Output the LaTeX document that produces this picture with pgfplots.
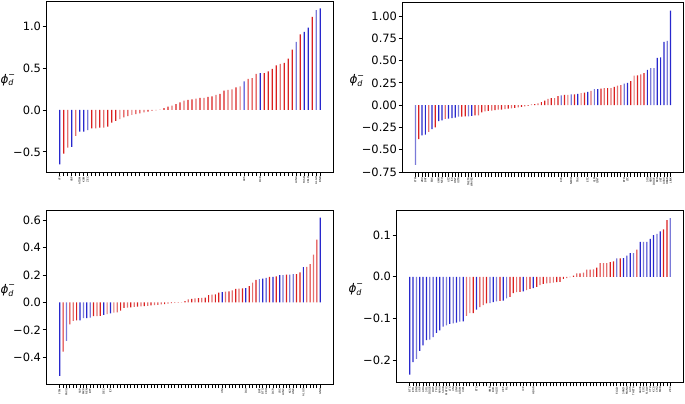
\documentclass[border=0pt]{standalone}
\usepackage{fontspec}
\setmainfont{DejaVu Sans}
\usepackage{pgfplots}
\pgfplotsset{compat=1.18}

\definecolor{rd}{RGB}{218,32,32}
\definecolor{rl}{RGB}{228,112,112}
\definecolor{bd}{RGB}{40,40,205}
\definecolor{bl}{RGB}{122,122,216}

\pgfplotsset{
  stem/.style={ybar, bar shift=0pt, bar width=1.2bp, draw=none, mark=none, fill=#1},
  panel/.style={
    scale only axis,
    anchor=north west,
    tick align=outside,
    xtick pos=bottom,
    ytick pos=left,
    major tick length=4bp,
    minor tick length=4bp,
    every tick/.style={black, line width=0.8bp},
    every minor tick/.style={black, line width=0.8bp},
    axis line style={line width=0.8bp},
    tick label style={font=\fontsize{11.5}{13}\selectfont},
    yticklabel style={inner sep=1.5bp},
    xticklabel style={font=\fontsize{2.6}{3}\selectfont, rotate=90, anchor=east, inner sep=0.6bp},
    ylabel={\fontsize{12}{13}\selectfont\textit{ϕ}\rlap{\raisebox{0.85ex}{\fontsize{8}{8}\selectfont −}}\raisebox{-0.45ex}{\fontsize{8}{8}\selectfont\textit{d}}},
    every axis y label/.style={at={(axis description cs:0,0.54)}, anchor=east, inner sep=0pt},
  },
}

\begin{document}
\begin{tikzpicture}
\path[use as bounding box] (0,0) rectangle (685bp,-404bp);

% top left
\begin{axis}[panel,
  at={(46.7bp,-1.7bp)}, width=286.6bp, height=170.3bp,
  xmin=-3.25, xmax=68.25, ymin=-0.74, ymax=1.29,
  ylabel style={xshift=-33bp},
  ytick={-0.5,0,0.5,1}, yticklabels={−0.5,0.0,0.5,1.0},
  minor xtick={0,...,65},
  xtick={0,3,5,6,7,46,50,59,61,62,64,65},
  xticklabels={YFI,XRP,ATOM,KSM,ZEC,AXS,DCR,LUNA,TUSD,CELO,ALGO,BNB},
]
\addplot[stem=rd] coordinates {(1,-0.52) (8,-0.22) (10,-0.21) (12,-0.20) (13,-0.15) (14,-0.13) (16,-0.09) (17,-0.075) (19,-0.05) (20,-0.04) (22,-0.02) (26,0.02) (27,0.04) (29,0.07) (30,0.09) (32,0.12) (33,0.125) (35,0.145) (37,0.155) (38,0.16) (40,0.19) (41,0.23) (44,0.27) (47,0.37) (48,0.38) (49,0.43) (51,0.44) (52,0.46) (53,0.49) (54,0.53) (56,0.56) (57,0.61) (58,0.72) (60,0.90) (63,1.11)};
\addplot[stem=rl] coordinates {(2,-0.45) (4,-0.31) (9,-0.22) (11,-0.21) (15,-0.11) (18,-0.06) (21,-0.03) (23,-0.01) (24,-0.004) (25,0.004) (28,0.05) (31,0.11) (34,0.135) (36,0.145) (39,0.18) (42,0.24) (43,0.245) (45,0.28) (55,0.55)};
\addplot[stem=bd] coordinates {(0,-0.65) (3,-0.44) (5,-0.26) (6,-0.26) (46,0.34) (50,0.44) (61,0.93) (62,0.98) (65,1.21)};
\addplot[stem=bl] coordinates {(7,-0.24) (59,0.81) (64,1.19)};
\end{axis}

% top right
\begin{axis}[panel,
  at={(402.7bp,-2.7bp)}, width=280.6bp, height=170bp,
  xmin=-3.85, xmax=80.85, ymin=-0.757, ymax=1.148,
  ylabel style={xshift=-40bp},
  ytick={-0.75,-0.5,-0.25,0,0.25,0.5,0.75,1},
  yticklabels={−0.75,−0.50,−0.25,0.00,0.25,0.50,0.75,1.00},
  minor xtick={0,...,77},
  xtick={0,2,3,5,7,8,10,11,12,13,16,17,44,47,49,52,54,55,63,64,70,71,72,73,74,75,76,77},
  xticklabels={FTM,ZRX,BAT,EOS,XMR,NEO,XTZ,ICX,ONT,IOTA,THETA,WAVES,KCS,NEXO,TRX,ETC,XLM,QNT,ETH,LTC,SOL,ADA,DOGE,BCH,VET,AVAX,HBAR,LINK},
]
\addplot[stem=rd] coordinates {(1,-0.38) (6,-0.25) (14,-0.13) (15,-0.125) (18,-0.115) (20,-0.08) (22,-0.065) (24,-0.055) (26,-0.05) (28,-0.04) (30,-0.03) (32,-0.02) (34,-0.008) (36,0.012) (38,0.035) (39,0.05) (41,0.08) (43,0.10) (45,0.115) (48,0.12) (51,0.14) (56,0.185) (58,0.19) (60,0.205) (62,0.225) (65,0.27) (67,0.335) (69,0.36)};
\addplot[stem=rl] coordinates {(4,-0.30) (9,-0.155) (19,-0.115) (21,-0.07) (23,-0.06) (25,-0.05) (27,-0.045) (29,-0.035) (31,-0.025) (33,-0.015) (35,0.01) (37,0.02) (40,0.07) (42,0.08) (46,0.115) (50,0.135) (53,0.16) (57,0.19) (59,0.19) (61,0.22) (66,0.33) (68,0.345)};
\addplot[stem=bd] coordinates {(2,-0.34) (3,-0.33) (5,-0.27) (7,-0.18) (8,-0.17) (10,-0.15) (11,-0.145) (12,-0.14) (17,-0.12) (49,0.125) (52,0.15) (55,0.18) (64,0.25) (70,0.395) (73,0.53) (74,0.535) (75,0.71) (77,1.06)};
\addplot[stem=bl] coordinates {(0,-0.67) (13,-0.13) (16,-0.125) (44,0.11) (47,0.12) (54,0.18) (63,0.24) (71,0.415) (72,0.415) (76,0.72)};
\end{axis}

% bottom left
\begin{axis}[panel,
  at={(46.7bp,-210.7bp)}, width=286.6bp, height=173.3bp,
  xmin=-3.85, xmax=80.85, ymin=-0.596, ymax=0.671,
  ylabel style={xshift=-33bp},
  ytick={-0.4,-0.2,0,0.2,0.4,0.6},
  yticklabels={−0.4,−0.2,0.0,0.2,0.4,0.6},
  minor xtick={0,...,77},
  xtick={0,2,6,7,8,9,13,15,48,55,59,60,61,63,65,66,68,69,72,77},
  xticklabels={FTM,PAXG,SXP,MKR,REN,BTT,DEC,ICP,UNI,DAI,BAT,BTG,CRO,DCR,LRC,LUNC,KCS,LINK,ALGO,GNO},
]
\addplot[stem=rd] coordinates {(1,-0.36) (3,-0.16) (5,-0.13) (10,-0.10) (12,-0.098) (18,-0.06) (19,-0.04) (21,-0.035) (23,-0.03) (25,-0.026) (27,-0.022) (29,-0.017) (31,-0.012) (33,-0.005) (35,-0.001) (37,0.01) (39,0.027) (41,0.032) (43,0.035) (44,0.053) (46,0.06) (47,0.073) (50,0.082) (52,0.10) (54,0.103) (56,0.12) (58,0.166) (62,0.187) (64,0.19) (67,0.203) (70,0.207) (71,0.22) (74,0.28) (76,0.46)};
\addplot[stem=rl] coordinates {(4,-0.135) (11,-0.10) (14,-0.085) (16,-0.075) (17,-0.073) (20,-0.038) (22,-0.032) (24,-0.028) (26,-0.024) (28,-0.02) (30,-0.014) (32,-0.008) (34,-0.003) (36,0.002) (38,0.022) (40,0.03) (42,0.034) (45,0.058) (49,0.08) (51,0.088) (53,0.102) (57,0.146) (73,0.26) (75,0.35)};
\addplot[stem=bd] coordinates {(0,-0.537) (6,-0.13) (8,-0.115) (13,-0.09) (15,-0.08) (48,0.075) (55,0.105) (60,0.175) (61,0.18) (63,0.188) (65,0.20) (72,0.258) (77,0.62)};
\addplot[stem=bl] coordinates {(2,-0.28) (7,-0.115) (9,-0.11) (59,0.17) (66,0.20) (68,0.203) (69,0.207)};
\end{axis}

% bottom right
\begin{axis}[panel,
  at={(396.7bp,-210bp)}, width=286.6bp, height=172.3bp,
  xmin=-3.9, xmax=81.9, ymin=-0.2535, ymax=0.1605,
  ylabel style={xshift=-35bp},
  ytick={-0.2,-0.1,0,0.1},
  yticklabels={−0.2,−0.1,0.0,0.1},
  minor xtick={0,...,78},
  xtick={0,1,2,3,4,5,6,7,8,9,10,11,12,13,14,15,16,20,24,25,26,28,29,34,37,62,64,65,66,67,69,70,71,72,73,74,75,78},
  xticklabels={BTC,ETH,BNB,XRP,ADA,SOL,DOGE,DOT,TRX,AVAX,SHIB,MATIC,LTC,UNI,LINK,ATOM,XLM,ETC,XMR,BCH,ALGO,VET,FIL,ICP,HBAR,EGLD,SAND,MANA,AXS,THETA,AAVE,EOS,FLOW,XTZ,KCS,CHZ,MKR,ZEC},
]
\addplot[stem=rd] coordinates {(19,-0.087) (21,-0.073) (23,-0.064) (27,-0.058) (30,-0.048) (31,-0.039) (33,-0.036) (36,-0.029) (38,-0.024) (40,-0.017) (44,-0.013) (45,-0.012) (46,-0.005) (48,-0.001) (49,0.003) (51,0.008) (54,0.017) (56,0.022) (57,0.033) (60,0.035) (61,0.037) (63,0.044) (68,0.065) (76,0.114) (77,0.136)};
\addplot[stem=rl] coordinates {(17,-0.094) (18,-0.087) (22,-0.068) (32,-0.037) (35,-0.032) (39,-0.020) (41,-0.016) (42,-0.015) (43,-0.014) (47,-0.003) (50,0.008) (52,0.010) (53,0.017) (55,0.018) (58,0.033) (59,0.033)};
\addplot[stem=bd] coordinates {(0,-0.235) (1,-0.205) (3,-0.178) (4,-0.165) (5,-0.152) (7,-0.145) (8,-0.135) (9,-0.129) (10,-0.12) (12,-0.113) (14,-0.11) (16,-0.107) (20,-0.079) (25,-0.061) (28,-0.057) (34,-0.035) (37,-0.027) (64,0.045) (65,0.051) (66,0.057) (69,0.084) (71,0.084) (72,0.091) (73,0.100) (75,0.109)};
\addplot[stem=bl] coordinates {(2,-0.197) (6,-0.151) (11,-0.117) (13,-0.112) (15,-0.108) (24,-0.063) (26,-0.059) (29,-0.052) (62,0.044) (67,0.057) (70,0.084) (74,0.103) (78,0.141)};
\end{axis}
\end{tikzpicture}
\end{document}
